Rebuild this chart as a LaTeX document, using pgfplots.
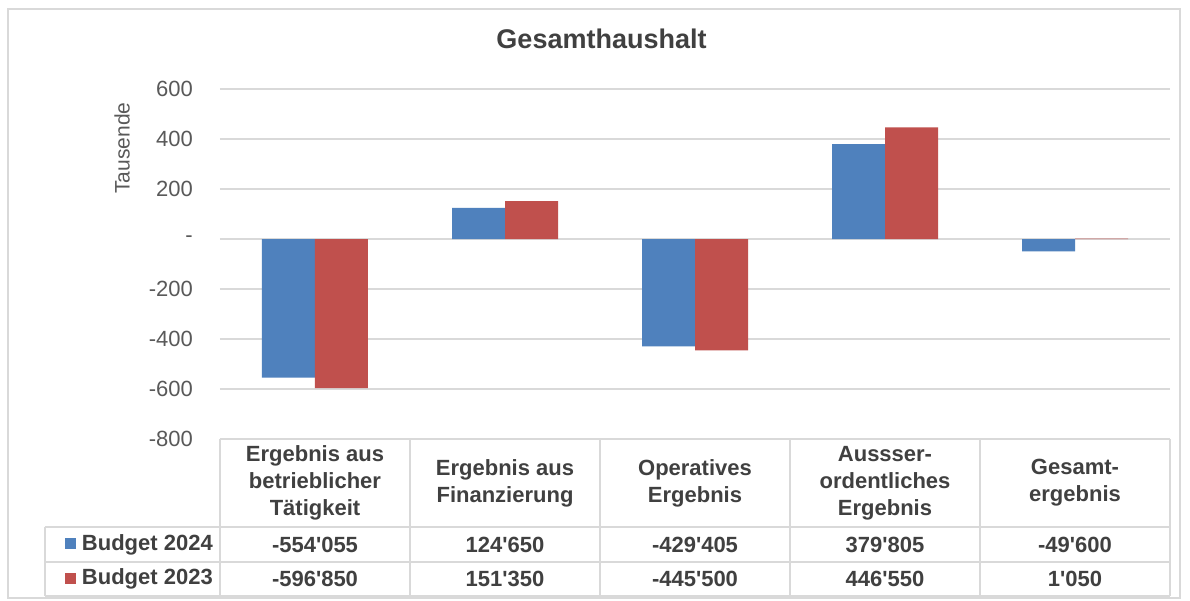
\documentclass[border=0pt]{standalone}
\usepackage{pgfplots}
\pgfplotsset{compat=1.18}
\usepackage{fontspec}
\setmainfont{Liberation Sans}
\definecolor{b24}{HTML}{4F81BD}
\definecolor{r23}{HTML}{C0504D}
\definecolor{gridc}{HTML}{D9D9D9}
\definecolor{tickc}{HTML}{595959}
\definecolor{txt}{HTML}{404040}
\newcommand{\q}{\textquotesingle}
\begin{document}
\begin{tikzpicture}
\path[fill=white] (-220bp,-162bp) rectangle (970bp,439bp);
\draw[gridc, line width=1.5bp] (-212bp,430bp) rectangle (960bp,-159bp);
\begin{axis}[at={(0,0)}, anchor=south west, scale only axis,
  width=950bp, height=350bp,
  xmin=-0.5, xmax=4.5, ymin=-800, ymax=600,
  ybar=0pt, bar width=53bp,
  xtick=\empty,
  ytick={-800,-600,-400,-200,0,200,400,600},
  yticklabels={-800,-600,-400,-200,-,200,400,600},
  ymajorgrids, grid style={gridc, line width=1.3bp},
  axis line style={draw=none}, major tick length=0pt,
  yticklabel style={font=\fontsize{22bp}{26bp}\selectfont, text=tickc, inner sep=0pt, xshift=-27bp},
  title={Gesamthaushalt},
  title style={at={(axis description cs:0.4016,1.126)}, anchor=center, font=\bfseries\fontsize{27bp}{32bp}\selectfont, text=txt},
  ylabel={Tausende},
  ylabel style={at={(axis description cs:-0.103,0.831)}, anchor=center, font=\fontsize{21bp}{25bp}\selectfont, text=tickc},
  clip=false,
]
\addplot[fill=b24, draw=none] coordinates {(0,-554.055) (1,124.65) (2,-429.405) (3,379.805) (4,-49.6)};
\addplot[fill=r23, draw=none] coordinates {(0,-596.85) (1,151.35) (2,-445.5) (3,446.55) (4,1.05)};
\end{axis}
% data table
\draw[gridc, line width=1.3bp] (0bp,0bp) -- (950bp,0bp);
\foreach \yy in {-88,-123,-157} {\draw[gridc, line width=1.3bp] (-175bp,\yy bp) -- (950bp,\yy bp);}
\draw[gridc, line width=1.3bp] (-175bp,-88bp) -- (-175bp,-157bp);
\foreach \xx in {0,190,380,570,760,950} {\draw[gridc, line width=1.3bp] (\xx bp,0bp) -- (\xx bp,-157bp);}
\tikzset{hdr/.style={font=\bfseries\fontsize{22bp}{27bp}\selectfont, text=txt, align=center, inner sep=0pt},
         val/.style={font=\bfseries\fontsize{22bp}{26bp}\selectfont, text=txt, inner sep=0pt}}
\node[hdr] at (95bp,-44bp) {Ergebnis aus\\betrieblicher\\Tätigkeit};
\node[hdr] at (285bp,-44bp) {Ergebnis aus\\Finanzierung};
\node[hdr] at (475bp,-44bp) {Operatives\\Ergebnis};
\node[hdr] at (665bp,-44bp) {Aussser-\\ordentliches\\Ergebnis};
\node[hdr] at (855bp,-44bp) {Gesamt-\\ergebnis};
\node[val, anchor=east] at (-7bp,-105.5bp) {\textcolor{b24}{\raisebox{1bp}{\rule{11bp}{11bp}}}\hspace{6bp}Budget 2024};
\node[val, anchor=east] at (-7bp,-140bp) {\textcolor{r23}{\raisebox{1bp}{\rule{11bp}{11bp}}}\hspace{6bp}Budget 2023};
\node[val] at (95bp,-105.5bp) {-554\q055};
\node[val] at (285bp,-105.5bp) {124\q650};
\node[val] at (475bp,-105.5bp) {-429\q405};
\node[val] at (665bp,-105.5bp) {379\q805};
\node[val] at (855bp,-105.5bp) {-49\q600};
\node[val] at (95bp,-140bp) {-596\q850};
\node[val] at (285bp,-140bp) {151\q350};
\node[val] at (475bp,-140bp) {-445\q500};
\node[val] at (665bp,-140bp) {446\q550};
\node[val] at (855bp,-140bp) {1\q050};
\end{tikzpicture}
\end{document}
